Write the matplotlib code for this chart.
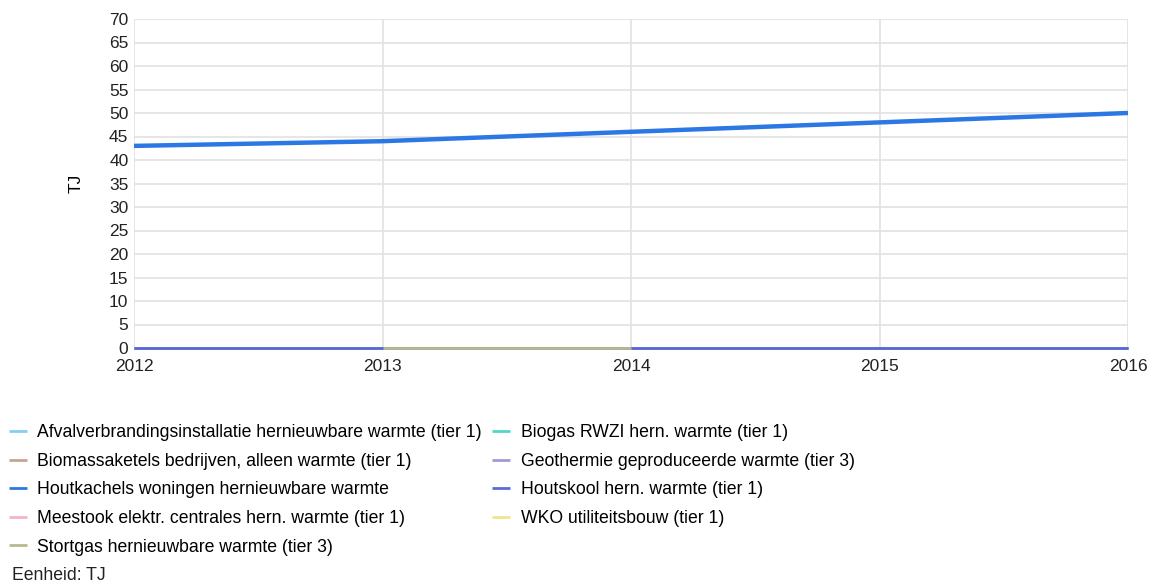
import matplotlib.pyplot as plt
import numpy as np

plt.rcParams["font.family"] = ["Liberation Sans", "DejaVu Sans"]

# --- Data ---
years = [2012, 2013, 2014, 2015, 2016]
nan = np.nan

series_names = [
    "Afvalverbrandingsinstallatie hernieuwbare warmte (tier 1)",
    "Biogas RWZI hern. warmte (tier 1)",
    "Biomassaketels bedrijven, alleen warmte (tier 1)",
    "Geothermie geproduceerde warmte (tier 3)",
    "Houtkachels woningen hernieuwbare warmte",
    "Houtskool hern. warmte (tier 1)",
    "Meestook elektr. centrales hern. warmte (tier 1)",
    "WKO utiliteitsbouw (tier 1)",
    "Stortgas hernieuwbare warmte (tier 3)",
]
afval = [0, 0, 0, 0, 0]
biogas = [0, 0, 0, 0, 0]
biomassa = [0, 0, 0, 0, 0]
geothermie = [0, 0, 0, 0, 0]
houtkachels = [43, 44, 46, 48, 50]
houtskool = [0, 0, 0, 0, 0]
meestook = [nan, nan, nan, nan, nan]
wko = [nan, nan, nan, nan, nan]
stortgas = [nan, 0, 0, nan, nan]

series_values = [afval, biogas, biomassa, geothermie, houtkachels,
                 houtskool, meestook, wko, stortgas]
colors = ["#86cdf5", "#4fd8c8", "#c9a38f", "#a29ad4", "#2b78e4",
          "#5b6bd6", "#f5b3c9", "#f3e38a", "#b9b891"]

# --- Figure ---
fig = plt.figure(figsize=(11.49, 5.83), dpi=100)
ax = fig.add_axes([134 / 1149, 1 - 348 / 583, (1128 - 134) / 1149, (348 - 19) / 583])

handles = []
for name, vals, col in zip(series_names, series_values, colors):
    lw = 3.2 if name.startswith("Houtkachels") else 2.0
    (h,) = ax.plot(years, vals, color=col, lw=lw, label=name,
                   solid_capstyle="butt", clip_on=False)
    handles.append(h)

ax.set_xlim(2012, 2016)
ax.set_ylim(0, 70)
ax.set_xticks(years)
ax.set_yticks(np.arange(0, 71, 5))
ax.tick_params(length=0, labelsize=12.5, colors="#222222", pad=4)
ax.tick_params(axis="x", pad=8)
ax.grid(True, color="#e2e2e2", lw=1.2)
ax.set_axisbelow(True)
for s in ax.spines.values():
    s.set_visible(False)
ax.set_ylabel("TJ", fontsize=12.5, labelpad=18)

# Legend in two columns, filled row by row
col1 = [0, 2, 4, 6, 8]
col2 = [1, 3, 5, 7]
order = col1 + col2
leg = fig.legend(
    [handles[i] for i in order],
    [series_names[i] for i in order],
    loc="upper left",
    bbox_to_anchor=(2 / 1149, 1 - 417 / 583),
    ncol=2,
    frameon=False,
    fontsize=12.7,
    handlelength=1.0,
    handletextpad=0.6,
    labelspacing=0.66,
    columnspacing=0.6,
    borderaxespad=0,
)
for line in leg.get_lines():
    line.set_linewidth(2.0)

fig.text(12 / 1149, 1 - 576 / 583, "Eenheid: TJ", fontsize=12.7, va="center", ha="left",
         color="#222222")

fig.savefig("out.png", dpi=100)
